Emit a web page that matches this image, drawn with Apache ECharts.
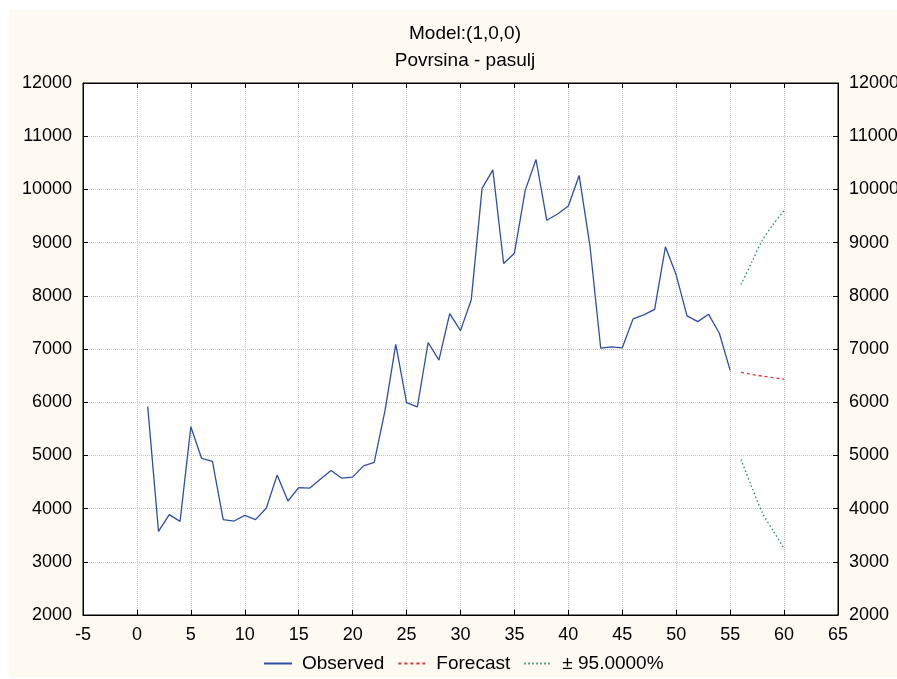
<!DOCTYPE html>
<html>
<head>
<meta charset="utf-8">
<script src="https://cdn.jsdelivr.net/npm/echarts@6/dist/echarts.min.js"></script>
<style>
html,body{margin:0;padding:0;background:#fff;}
#chart{width:897px;height:679px;}
</style>
</head>
<body>
<div id="chart"></div>
<script>
const titleLines = ['Model:(1,0,0)', 'Povrsina - pasulj'];
const observedX = [1,2,3,4,5,6,7,8,9,10,11,12,13,14,15,16,17,18,19,20,21,22,23,24,25,26,27,28,29,30,31,32,33,34,35,36,37,38,39,40,41,42,43,44,45,46,47,48,49,50,51,52,53,54,55];
const observed = [5917,3572,3887,3760,5540,4943,4887,3792,3766,3874,
                  3792,4011,4630,4143,4396,4383,4553,4717,4572,4591,
                  4804,4868,5842,7087,5992,5911,7122,6790,7665,7346,
                  7927,10019,10367,8607,8801,9981,10562,9419,9537,9687,
                  10262,8940,7015,7040,7022,7566,7640,7745,8920,8390,
                  7622,7515,7652,7296,6598];
const forecastX = [56,57,58,59,60];
const forecast = [6560,6523,6490,6460,6432];
const upper95 = [8212,8630,9050,9345,9600];
const lower95 = [4925,4410,3915,3580,3250];
const legendNames = ['Observed','Forecast','± 95.0000%'];

const FONT = "Arial, 'Liberation Sans', sans-serif";
const pairs = (xs, ys) => xs.map((x, i) => [x, ys[i]]);
const plain = v => String(v);

const chart = echarts.init(document.getElementById('chart'), null, {renderer: 'canvas'});
const yAxisCommon = {
  type: 'value', min: 2000, max: 12000, interval: 1000,
  axisLine: {show: true, onZero: false, lineStyle: {color: '#000', width: 1}},
  axisTick: {show: true, inside: true, length: 5, lineStyle: {color: '#000'}},
  axisLabel: {color: '#000', fontSize: 18, fontFamily: FONT, margin: 11, formatter: plain},
};
chart.setOption({
  backgroundColor: '#fff',
  animation: false,
  graphic: [{
    type: 'rect', z: -10, silent: true,
    shape: {x: 9, y: 10, width: 888, height: 667},
    style: {fill: '#fdfaf2'}
  }],
  title: {
    text: titleLines.join('\n'),
    left: 460, textAlign: 'center', top: 15,
    textStyle: {fontSize: 19, fontWeight: 'normal', color: '#000', fontFamily: FONT, lineHeight: 27}
  },
  grid: {left: 83, right: 59, top: 83, bottom: 64, outerBoundsMode: 'none', containLabel: false,
         show: true, backgroundColor: '#fff', borderColor: '#000', borderWidth: 1},
  legend: {
    data: legendNames, bottom: 1, left: 258, itemWidth: 28, itemHeight: 14, itemGap: 13,
    itemStyle: {opacity: 0},
    textStyle: {fontSize: 19, color: '#000', fontFamily: FONT, padding: [0, 0, 0, 5]}
  },
  xAxis: [{
    type: 'value', min: -5, max: 65, interval: 5, position: 'bottom',
    axisLine: {show: true, onZero: false, lineStyle: {color: '#000'}},
    axisTick: {show: true, inside: true, length: 5, lineStyle: {color: '#000'}},
    axisLabel: {color: '#000', fontSize: 18, fontFamily: FONT, margin: 11, formatter: plain},
    splitLine: {show: true, lineStyle: {color: '#c4c4c4', type: 'dotted', width: 1}}
  }, {
    type: 'value', min: -5, max: 65, interval: 5, position: 'top',
    axisLine: {show: true, onZero: false, lineStyle: {color: '#000'}},
    axisTick: {show: true, inside: true, length: 5, lineStyle: {color: '#000'}},
    axisLabel: {show: false},
    splitLine: {show: false}
  }],
  yAxis: [
    Object.assign({}, yAxisCommon, {position: 'left',
      splitLine: {show: true, lineStyle: {color: '#c4c4c4', type: 'dotted', width: 1}}}),
    Object.assign({}, yAxisCommon, {position: 'right', splitLine: {show: false}})
  ],
  series: [
    {name: legendNames[0], type: 'line', data: pairs(observedX, observed), symbol: 'none',
     lineStyle: {color: '#2f4fa3', width: 1.3}, itemStyle: {color: '#2f4fa3'}},
    {name: legendNames[1], type: 'line', data: pairs(forecastX, forecast), symbol: 'none',
     lineStyle: {color: '#e8303a', width: 1.3, type: [3, 3]}, itemStyle: {color: '#e8303a'}},
    {name: legendNames[2], type: 'line', data: pairs(forecastX, upper95), symbol: 'none', smooth: 0.3,
     lineStyle: {color: '#2a8a5a', width: 1.3, type: [1.5, 2.5]}, itemStyle: {color: '#2a8a5a'}},
    {name: legendNames[2], type: 'line', data: pairs(forecastX, lower95), symbol: 'none', smooth: 0.3,
     lineStyle: {color: '#2a8a5a', width: 1.3, type: [1.5, 2.5]}, itemStyle: {color: '#2a8a5a'}}
  ]
});
</script>
</body>
</html>
